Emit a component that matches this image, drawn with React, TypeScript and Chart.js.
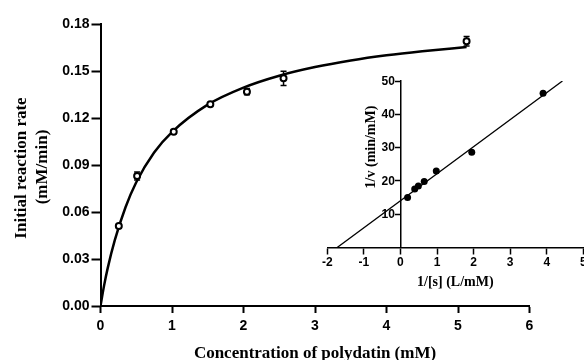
import React, { useEffect, useRef } from "react";
import { Chart, registerables } from "chart.js";

Chart.register(...registerables);

// ---------- main plot data ----------
const concentration = [0.256, 0.512, 1.024, 1.536, 2.048, 2.56, 5.12];
const rate = [0.051, 0.083, 0.1113, 0.1287, 0.1368, 0.1453, 0.169];
const rateError = [0.001, 0.0025, 0.001, 0.001, 0.002, 0.0045, 0.003];
const fitX = [0, 0.05, 0.1, 0.2, 0.35, 0.5, 0.75, 1, 1.5, 2, 2.5, 3, 3.5, 4, 4.5, 5.12];
const fitY = [0, 0.013, 0.024, 0.042, 0.063, 0.079, 0.098, 0.111, 0.1285, 0.1394, 0.147, 0.1525, 0.1567, 0.16, 0.1626, 0.1653];
const mainXTicks = [0, 1, 2, 3, 4, 5, 6];
const mainYTicks = [0, 0.03, 0.06, 0.09, 0.12, 0.15, 0.18];

// ---------- inset (Lineweaver-Burk) data ----------
const invS = [0.195, 0.39, 0.49, 0.65, 0.98, 1.95, 3.9];
const invV = [15.0, 17.6, 18.5, 19.8, 23.0, 28.6, 46.3];
const lbLineX = [-1.73, 4.43];
const lbLineY = [0, 50];
const insetXTicks = [-2, -1, 0, 1, 2, 3, 4, 5];
const insetYTicks = [10, 20, 30, 40, 50];

const SANS = "'Liberation Sans', Arial, sans-serif";
const SERIF = "'Liberation Serif', 'Times New Roman', serif";

const errorBarPlugin = {
  id: "errorBars",
  beforeDatasetsDraw(chart: any) {
    const { ctx, scales } = chart;
    const x = scales.x;
    const y = scales.y;
    ctx.save();
    ctx.strokeStyle = "#000";
    ctx.lineWidth = 1.5;
    concentration.forEach((c, i) => {
      const px = x.getPixelForValue(c);
      const top = y.getPixelForValue(rate[i] + rateError[i]);
      const bot = y.getPixelForValue(rate[i] - rateError[i]);
      ctx.beginPath();
      ctx.moveTo(px, top);
      ctx.lineTo(px, bot);
      ctx.moveTo(px - 3, top);
      ctx.lineTo(px + 3, top);
      ctx.moveTo(px - 3, bot);
      ctx.lineTo(px + 3, bot);
      ctx.stroke();
    });
    ctx.restore();
  },
};

const mainTitlePlugin = {
  id: "mainTitles",
  afterDraw(chart: any) {
    const { ctx, chartArea } = chart;
    ctx.save();
    ctx.fillStyle = "#000";
    ctx.font = `bold 17px ${SERIF}`;
    ctx.textAlign = "center";
    ctx.textBaseline = "alphabetic";
    ctx.fillText("Concentration of polydatin (mM)", (chartArea.left + chartArea.right) / 2, 358);
    ctx.save();
    ctx.translate(26, 168);
    ctx.rotate(-Math.PI / 2);
    ctx.fillText("Initial reaction rate", 0, 0);
    ctx.restore();
    ctx.save();
    ctx.translate(47, 167);
    ctx.rotate(-Math.PI / 2);
    ctx.fillText("(mM/min)", 0, 0);
    ctx.restore();
    ctx.restore();
  },
};

const insetTitlePlugin = {
  id: "insetTitles",
  afterDraw(chart: any) {
    const { ctx, chartArea, scales } = chart;
    ctx.save();
    ctx.fillStyle = "#000";
    // y tick labels, to the left of the y axis at x = 0
    const axisX = scales.x.getPixelForValue(0);
    ctx.font = `bold 12px ${SANS}`;
    ctx.textAlign = "right";
    ctx.textBaseline = "middle";
    insetYTicks.forEach((v) => {
      ctx.fillText(String(v), axisX - 5.5, scales.y.getPixelForValue(v) + 0.5);
    });
    // titles (canvas is offset by (300, 60))
    ctx.font = `bold 14px ${SERIF}`;
    ctx.textAlign = "center";
    ctx.textBaseline = "alphabetic";
    ctx.fillText("1/[s] (L/mM)", (chartArea.left + chartArea.right) / 2, 286 - 60);
    ctx.translate(375 - 300, 147 - 60);
    ctx.rotate(-Math.PI / 2);
    ctx.fillText("1/v (min/mM)", 0, 0);
    ctx.restore();
  },
};

export default function App() {
  const mainRef = useRef<HTMLCanvasElement>(null);
  const insetRef = useRef<HTMLCanvasElement>(null);

  useEffect(() => {
    const points = concentration.map((c, i) => ({ x: c, y: rate[i] }));
    const fit = fitX.map((v, i) => ({ x: v, y: fitY[i] }));

    const main = new Chart(mainRef.current as HTMLCanvasElement, {
      type: "scatter",
      data: {
        datasets: [
          {
            data: points,
            showLine: false,
            pointRadius: 3,
            pointBorderWidth: 2,
            pointBorderColor: "#000",
            pointBackgroundColor: "#fff",
          } as any,
          {
            type: "line",
            data: fit,
            borderColor: "#000",
            borderWidth: 2.5,
            pointRadius: 0,
            cubicInterpolationMode: "monotone",
            fill: false,
          } as any,
        ],
      },
      options: {
        animation: false,
        responsive: false,
        maintainAspectRatio: false,
        events: [],
        layout: { padding: { left: 0, top: 24, right: 54.5, bottom: 0 } },
        plugins: { legend: { display: false }, tooltip: { enabled: false } },
        scales: {
          x: {
            type: "linear",
            min: 0,
            max: 6,
            afterBuildTicks: (s: any) => {
              s.ticks = mainXTicks.map((v) => ({ value: v }));
            },
            afterFit: (s: any) => {
              s.height = 54;
            },
            grid: { display: true, drawOnChartArea: false, drawTicks: true, tickLength: 7, tickWidth: 2, tickColor: "#000" },
            border: { display: true, color: "#000", width: 2 },
            ticks: {
              color: "#000",
              font: { family: SANS, size: 14, weight: "bold" },
              padding: 5,
              maxRotation: 0,
              callback: (v: any) => String(v),
            },
          },
          y: {
            type: "linear",
            min: 0,
            max: 0.18,
            afterBuildTicks: (s: any) => {
              s.ticks = mainYTicks.map((v) => ({ value: v }));
            },
            afterFit: (s: any) => {
              s.width = 100.5;
            },
            grid: { display: true, drawOnChartArea: false, drawTicks: true, tickLength: 9, tickWidth: 2, tickColor: "#000" },
            border: { display: true, color: "#000", width: 2 },
            ticks: {
              color: "#000",
              font: { family: SANS, size: 14, weight: "bold" },
              padding: 2,
              callback: (v: any) => Number(v).toFixed(2),
            },
          },
        },
      } as any,
      plugins: [errorBarPlugin, mainTitlePlugin],
    });

    const lbPoints = invS.map((v, i) => ({ x: v, y: invV[i] }));
    const lbLine = lbLineX.map((v, i) => ({ x: v, y: lbLineY[i] }));

    const inset = new Chart(insetRef.current as HTMLCanvasElement, {
      type: "scatter",
      data: {
        datasets: [
          {
            data: lbPoints,
            showLine: false,
            pointRadius: 3.5,
            pointBorderWidth: 0,
            pointBackgroundColor: "#000",
            pointBorderColor: "#000",
          } as any,
          {
            type: "line",
            data: lbLine,
            borderColor: "#000",
            borderWidth: 1.3,
            pointRadius: 0,
            fill: false,
          } as any,
        ],
      },
      options: {
        animation: false,
        responsive: false,
        maintainAspectRatio: false,
        events: [],
        layout: { padding: { left: 27.3, top: 21, right: 16.7, bottom: 52.5 } },
        plugins: { legend: { display: false }, tooltip: { enabled: false } },
        scales: {
          x: {
            type: "linear",
            position: { y: 0 },
            min: -2,
            max: 5,
            afterBuildTicks: (s: any) => {
              s.ticks = insetXTicks.map((v) => ({ value: v }));
            },
            afterFit: (s: any) => {
              s.height = 0;
            },
            grid: { display: true, drawOnChartArea: false, drawTicks: true, tickLength: 6, tickWidth: 1.5, tickColor: "#000" },
            border: { display: true, color: "#000", width: 1.5 },
            ticks: {
              color: "#000",
              font: { family: SANS, size: 12, weight: "bold" },
              padding: 2,
              maxRotation: 0,
              callback: (v: any) => String(v),
            },
          },
          y: {
            type: "linear",
            position: { x: 0 },
            min: 0,
            max: 50,
            afterBuildTicks: (s: any) => {
              s.ticks = insetYTicks.map((v) => ({ value: v }));
            },
            afterFit: (s: any) => {
              s.width = 0;
            },
            grid: { display: true, drawOnChartArea: false, drawTicks: true, tickLength: 5, tickWidth: 1.5, tickColor: "#000" },
            border: { display: true, color: "#000", width: 1.5 },
            ticks: {
              display: false,
            },
          },
        },
      } as any,
      plugins: [insetTitlePlugin],
    });

    return () => {
      main.destroy();
      inset.destroy();
    };
  }, []);

  return (
    <div
      style={{
        position: "fixed",
        left: 0,
        top: 0,
        width: 584,
        height: 360,
        overflow: "hidden",
        background: "#fff",
      }}
    >
      <canvas ref={mainRef} width={584} height={360} style={{ position: "absolute", left: 0, top: 0 }} />
      <canvas ref={insetRef} width={300} height={240} style={{ position: "absolute", left: 300, top: 60 }} />
    </div>
  );
}
